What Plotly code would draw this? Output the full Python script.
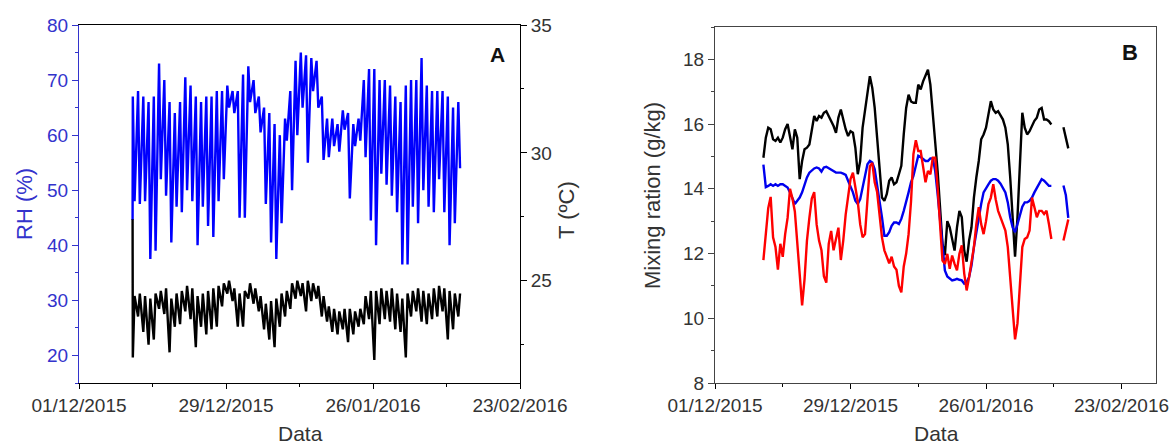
import pandas as pd
import plotly.graph_objects as go

# ---------------- Panel A: relative humidity and temperature ----------------
# first logged reading (11/12/2015 early morning)
rh_first = 44.6
t_first = 27.4

# daily extremes, one entry per day starting 11/12/2015
rh_max = [67, 68, 67, 66, 67, 73, 70, 66, 64, 66,
          70.5, 69, 67, 66, 67, 67, 68, 68, 69, 68,
          68, 71, 72.5, 70, 67, 65, 64, 62, 60, 63,
          68, 73.5, 75, 74.5, 74, 73.5, 67, 63, 63, 62,
          64.5, 64, 62, 63, 70, 72, 72, 70, 70, 69,
          67, 66, 69, 70, 70, 74, 69, 68, 68, 68,
          67, 65, 66]
rh_min = [48, 47.5, 48, 37.5, 39, 52, 49, 40.5, 47, 46,
          50, 48, 40, 47, 43.5, 41.5, 48, 52, 65, 64,
          45, 45, 66, 64, 60.5, 47.5, 40.5, 37.5, 44, 59,
          50, 60, 65, 55, 68, 65, 55.5, 56, 58, 57,
          61, 48.5, 58, 59, 56, 44.5, 40, 53, 51, 49,
          46, 36.5, 36.5, 47, 44, 50, 47, 46, 52, 46,
          40, 44, 54]
t_max = [24.4, 24.5, 24.4, 24.3, 24.5, 24.6, 24.7, 24.3, 24.5, 24.6,
         24.8, 24.7, 24.4, 24.5, 24.6, 24.7, 24.8, 24.9, 25.0, 24.7,
         24.5, 24.6, 24.9, 24.7, 24.4, 24.1, 24.2, 24.3, 24.5, 24.6,
         24.9, 25.0, 24.9, 25.0, 24.9, 24.8, 24.4, 24.0, 23.9, 23.8,
         23.9, 23.9, 23.8, 23.9, 24.4, 24.6, 24.6, 24.7, 24.6, 24.7,
         24.5, 24.3, 24.5, 24.6, 24.7, 24.6, 24.5, 24.7, 24.8, 24.7,
         24.6, 24.5, 24.5]
t_min = [22.0, 23.6, 23.0, 22.5, 22.7, 23.9, 23.7, 22.2, 23.2, 23.3,
         23.8, 23.5, 22.4, 23.2, 22.9, 23.1, 23.2, 24.0, 24.5, 24.2,
         23.2, 23.2, 24.3, 24.1, 23.8, 23.1, 22.7, 22.4, 23.2, 23.6,
         23.9, 24.3, 24.4, 23.8, 24.2, 24.3, 23.6, 23.4, 23.0, 22.9,
         23.1, 22.6, 22.9, 23.2, 23.3, 23.5, 21.9, 23.3, 23.5, 23.4,
         23.1, 23.0, 22.0, 23.6, 23.8, 23.4, 23.3, 23.5, 23.6, 23.8,
         22.7, 23.1, 23.6]

# ---------------- Panel B: mixing ratio (12-hourly from 11/12/2015 00:00) ----------------
mr_black = [14.96, 15.58, 15.89, 15.84, 15.53, 15.48, 15.58, 15.43, 15.58, 15.84,
            16.0, 15.63, 15.22, 15.84, 15.58, 14.3, 14.86, 15.22, 15.27, 15.37,
            15.89, 16.25, 16.1, 16.25, 16.2, 16.35, 16.4, 16.25, 16.1, 15.94,
            15.73, 16.2, 16.45, 16.1, 15.84, 15.63, 15.78, 15.73, 15.27, 14.45,
            14.86, 15.89, 16.4, 16.91, 17.48, 17.12, 16.5, 15.58, 14.55, 13.73,
            13.63, 13.84, 14.25, 14.35, 14.14, 14.2, 14.45, 14.71, 15.68, 16.5,
            16.91, 16.7, 16.66, 16.66, 17.22, 17.07, 17.32, 17.53, 17.68, 17.22,
            16.3, 15.58, 14.55, 13.43, 12.3, 11.95, 13.0, 12.81, 12.4, 12.09,
            12.81, 13.32, 13.12, 12.09, 11.75, 12.4, 12.81, 13.73, 14.35, 14.86,
            15.53, 15.68, 15.89, 16.3, 16.71, 16.45, 16.35, 16.4, 16.25, 16.14,
            15.89, 15.37, 14.35, 13.0, 11.9, 13.12, 14.86, 16.35, 15.89, 15.68,
            15.78, 15.94, 16.1, 16.2, 16.45, 16.5, 16.14, 16.14, 16.09, 15.99,
            None, None, None, None, 15.9, 15.6, 15.25]
mr_blue = [14.75, 14.05, 14.09, 14.14, 14.09, 14.14, 14.09, 14.14, 14.14, 14.09,
           14.04, 13.89, 13.73, 13.53, 13.63, 13.73, 13.89, 14.14, 14.35, 14.5,
           14.57, 14.63, 14.66, 14.63, 14.53, 14.66, 14.68, 14.63, 14.6, 14.53,
           14.5, 14.5, 14.5, 14.47, 14.43, 14.25, 14.09, 13.89, 13.63, 13.53,
           13.68, 14.04, 14.45, 14.76, 14.86, 14.81, 14.6, 14.14, 13.63, 13.12,
           12.55, 12.55, 12.66, 12.86, 12.96, 12.96, 12.91, 13.07, 13.32, 13.58,
           13.89, 14.2, 14.4, 14.71, 15.02, 14.98, 14.91, 14.86, 14.86, 14.94,
           14.94, 14.55, 13.84, 13.12, 12.3, 11.48, 11.29, 11.22, 11.17, 11.19,
           11.22, 11.19, 11.17, 11.07, 11.12, 11.27, 11.63, 12.2, 12.66, 13.01,
           13.53, 13.89, 14.04, 14.14, 14.25, 14.3, 14.3, 14.25, 14.16, 14.04,
           13.89, 13.58, 13.12, 12.81, 12.66, 12.91, 13.22, 13.45, 13.58, 13.58,
           13.63, 13.73, 13.89, 14.04, 14.2, 14.3, 14.25, 14.16, 14.09, 14.09,
           None, None, None, None, 14.1, 13.8, 13.1]
mr_red = [11.8, 12.6, 13.4, 13.75, 12.5, 12.2, 11.5, 12.3, 11.9, 12.6,
          13.1, 14.0, 13.7, 13.3, 12.3, 11.2, 10.4, 11.2, 12.4, 13.1,
          13.7, 13.9, 12.9, 12.4, 12.1, 11.3, 11.1, 12.3, 12.7, 12.1,
          12.5, 12.8, 11.8, 12.4, 13.2, 13.8, 14.3, 14.5, 14.0, 13.6,
          12.9, 12.5, 12.6, 13.8, 14.7, 14.8, 14.2, 13.9, 13.1, 12.5,
          12.1, 11.9, 11.7, 11.9, 11.6, 11.5, 11.0, 10.8, 11.6, 12.0,
          12.6, 13.6, 15.07, 15.5, 15.17, 15.17, 14.66, 14.2, 14.55, 14.45,
          14.96, 14.96, 14.04, 12.91, 11.78, 11.68, 11.99, 11.53, 11.94, 11.68,
          11.48, 11.99, 12.25, 11.38, 10.86, 11.27, 11.68, 12.2, 12.91, 13.43,
          12.91, 12.6, 13.0, 13.53, 13.73, 14.14, 13.68, 13.32, 13.12, 12.91,
          12.71, 12.2, 11.27, 10.45, 9.35, 9.84, 11.07, 12.2, 12.45, 12.5,
          12.71, 13.73, 13.43, 13.12, 13.32, 13.32, 13.22, 13.32, 12.91, 12.45,
          None, None, None, None, 12.4, 12.7, 13.05]

x_ticks = ["2015-12-01", "2015-12-29", "2016-01-26", "2016-02-23"]

# ---------------- time axes ----------------
days = pd.date_range("2015-12-11", periods=len(rh_max), freq="D")
first_time = pd.Timestamp("2015-12-11 05:00")
t_a, rh_a, temp_a = [first_time], [rh_first], [t_first]
for d, hi, lo, th, tl in zip(days, rh_max, rh_min, t_max, t_min):
    t_a += [d + pd.Timedelta(hours=6), d + pd.Timedelta(hours=14)]
    rh_a += [hi, lo]
    temp_a += [tl, th]

t_b = pd.date_range("2015-12-11 00:00", periods=len(mr_black), freq="12h")

# ---------------- figure ----------------
W, H = 1173, 448
FONT = "Liberation Sans, Arial, sans-serif"
RH_COL = "#3333cc"
TXT = "#333333"
DAY = 86400000


def px(x):
    return x / W


def py(y):
    return 1 - y / H


fig = go.Figure()
fig.add_trace(go.Scatter(x=t_a, y=rh_a, mode="lines",
                         line=dict(color="#0000ff", width=2.4),
                         xaxis="x", yaxis="y", showlegend=False))
fig.add_trace(go.Scatter(x=t_a, y=temp_a, mode="lines",
                         line=dict(color="#000000", width=2.4),
                         xaxis="x", yaxis="y2", showlegend=False))
fig.add_trace(go.Scatter(x=t_b, y=mr_black, mode="lines",
                         line=dict(color="#000000", width=2.4),
                         xaxis="x2", yaxis="y3", showlegend=False))
fig.add_trace(go.Scatter(x=t_b, y=mr_blue, mode="lines",
                         line=dict(color="#0000ee", width=2.4),
                         xaxis="x2", yaxis="y3", showlegend=False))
fig.add_trace(go.Scatter(x=t_b, y=mr_red, mode="lines",
                         line=dict(color="#ff0000", width=2.4),
                         xaxis="x2", yaxis="y3", showlegend=False))

tickfont = dict(family=FONT, size=19, color=TXT)

date_axis = dict(
    type="date", tickvals=x_ticks, tickformat="%d/%m/%Y",
    ticks="outside", ticklen=5, tickwidth=1, tickcolor="#000",
    minor=dict(dtick=14 * DAY, tick0="2015-12-01", ticks="outside",
               ticklen=3, tickcolor="#000"),
    showline=True, linewidth=1, mirror=True, automargin=False,
    showgrid=False, zeroline=False, tickfont=tickfont,
)

fig.update_layout(
    width=W, height=H,
    margin=dict(l=0, r=0, t=0, b=0),
    paper_bgcolor="white", plot_bgcolor="white",
    xaxis=dict(date_axis, domain=[px(79), px(520)], anchor="y",
               range=["2015-12-01", "2016-02-23"], linecolor="#000"),
    xaxis3=dict(type="date", overlaying="x", side="top", anchor="y",
                range=["2015-12-01", "2016-02-23"], automargin=False,
                tickvals=x_ticks, showticklabels=False,
                ticks="inside", ticklen=5, tickcolor="#000",
                minor=dict(dtick=14 * DAY, tick0="2015-12-01", ticks="inside",
                           ticklen=5, tickcolor="#000"),
                showline=False, showgrid=False, zeroline=False),
    yaxis=dict(domain=[py(383), py(25)], anchor="x", range=[15, 80],
               tick0=0, dtick=10, ticks="outside", ticklen=6,
               tickcolor=RH_COL, linecolor=RH_COL, showline=True, linewidth=1,
               minor=dict(dtick=5, ticks="outside", ticklen=3, tickcolor=RH_COL),
               tickfont=dict(family=FONT, size=19, color=RH_COL),
               showgrid=False, zeroline=False, automargin=False),
    yaxis2=dict(overlaying="y", side="right", anchor="x", range=[21, 35],
                tick0=0, dtick=5, ticks="outside", ticklen=6, tickcolor="#000",
                linecolor="#000", showline=True, linewidth=1,
                minor=dict(dtick=2.5, ticks="outside", ticklen=3, tickcolor="#000"),
                tickfont=tickfont, showgrid=False, zeroline=False,
                automargin=False),
    xaxis2=dict(date_axis, domain=[px(715), px(1156)], anchor="y3",
                range=["2015-12-01", "2016-03-01 03:00"], linecolor="#444"),
    yaxis3=dict(domain=[py(383), py(27)], anchor="x2", range=[8, 19],
                tick0=0, dtick=2, ticks="outside", ticklen=6, tickcolor="#444",
                linecolor="#444", showline=True, linewidth=1, mirror=True,
                minor=dict(dtick=1, ticks="outside", ticklen=3, tickcolor="#444"),
                tickfont=tickfont, showgrid=False, zeroline=False,
                automargin=False),
)

title_font = dict(family=FONT, size=21, color=TXT)
annotations = [
    dict(text="RH (%)", x=px(25), y=py(204), textangle=-90,
         font=dict(family=FONT, size=22, color=RH_COL)),
    dict(text="T (ºC)", x=px(566), y=py(210), textangle=-90,
         font=dict(family=FONT, size=22, color=TXT)),
    dict(text="Data", x=px(300), y=py(433), font=title_font),
    dict(text="Data", x=px(936), y=py(433), font=title_font),
    dict(text="Mixing ration (g/kg)", x=px(652), y=py(196), textangle=-90,
         font=dict(family=FONT, size=22, color=TXT)),
    dict(text="<b>A</b>", x=px(497), y=py(54),
         font=dict(family=FONT, size=21, color="#111")),
    dict(text="<b>B</b>", x=px(1130), y=py(53),
         font=dict(family=FONT, size=22, color="#111")),
]
for a in annotations:
    fig.add_annotation(xref="paper", yref="paper", showarrow=False,
                       xanchor="center", yanchor="middle", **a)

fig.write_html("out.html")
